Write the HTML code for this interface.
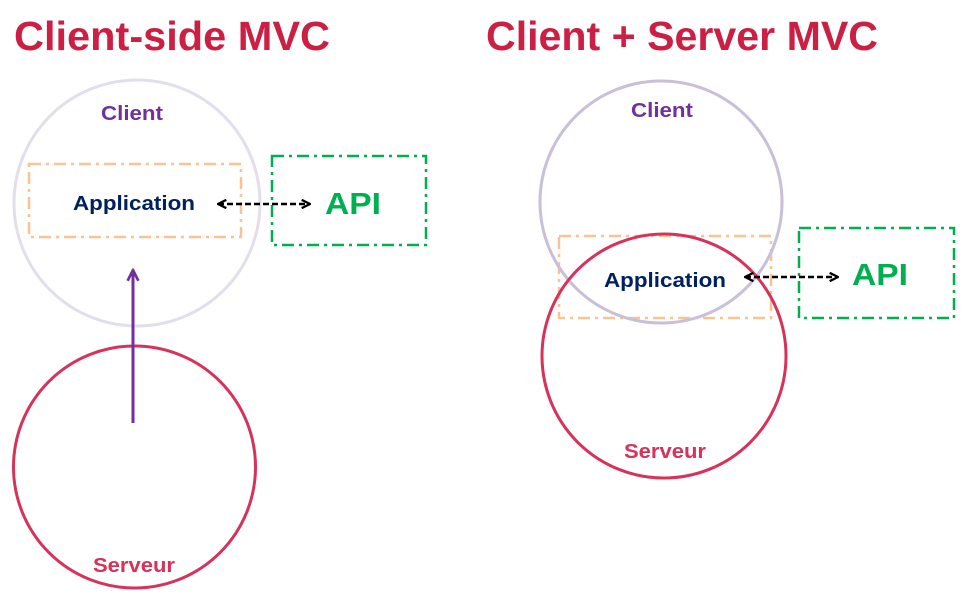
<!DOCTYPE html>
<html><head><meta charset="utf-8"><style>
html,body{margin:0;padding:0;background:#fff;width:966px;height:598px;overflow:hidden}
text{font-family:"Liberation Sans",sans-serif;font-weight:bold}
</style></head><body>
<svg width="966" height="598" viewBox="0 0 966 598" xmlns="http://www.w3.org/2000/svg">
<defs>
<marker id="ah" viewBox="0 0 10 10" refX="9" refY="5" markerWidth="4" markerHeight="4" orient="auto-start-reverse"><path d="M1,1 L9,5 L1,9" fill="none" stroke="#000" stroke-width="2.2"/></marker>
<marker id="pa" viewBox="0 0 10 10" refX="9" refY="5" markerWidth="4.5" markerHeight="4.5" orient="auto"><path d="M1,1 L9,5 L1,9" fill="none" stroke="#7030a0" stroke-width="2"/></marker>
</defs>
<text x="14" y="50" font-size="41" fill="#cc1f44" textLength="316" lengthAdjust="spacingAndGlyphs">Client-side MVC</text>
<text x="486" y="50" font-size="41" fill="#cc1f44" textLength="392" lengthAdjust="spacingAndGlyphs">Client + Server MVC</text>

<!-- Left -->
<circle cx="137" cy="203" r="123" fill="none" stroke="#e2deec" stroke-width="3"/>
<circle cx="134.5" cy="467" r="121" fill="none" stroke="#d6325a" stroke-width="3"/>
<rect x="29" y="164" width="212" height="73" fill="none" stroke="#f8c496" stroke-width="2.5" stroke-dasharray="12,5,3,5"/>
<rect x="272" y="156" width="154" height="89" fill="none" stroke="#00b050" stroke-width="2.5" stroke-dasharray="12,5,3,5"/>
<text x="101" y="120" font-size="20" fill="#7030a0" textLength="62" lengthAdjust="spacingAndGlyphs">Client</text>
<text x="73" y="210" font-size="20" fill="#002060" textLength="122" lengthAdjust="spacingAndGlyphs">Application</text>
<text x="325" y="214" font-size="31" fill="#00b050" textLength="56" lengthAdjust="spacingAndGlyphs">API</text>
<line x1="218" y1="204" x2="310" y2="204" stroke="#000" stroke-width="2.6" stroke-dasharray="6,3" marker-start="url(#ah)" marker-end="url(#ah)"/>
<line x1="133" y1="423" x2="133" y2="270" stroke="#7030a0" stroke-width="3" marker-end="url(#pa)"/>
<text x="93" y="572" font-size="20" fill="#d6325a" textLength="82" lengthAdjust="spacingAndGlyphs">Serveur</text>

<!-- Right -->
<rect x="559" y="236" width="212" height="82" fill="none" stroke="#f8c496" stroke-width="2.5" stroke-dasharray="12,5,3,5"/>
<circle cx="661" cy="202" r="121" fill="none" stroke="#c9bfd8" stroke-width="3"/>
<circle cx="664" cy="356" r="122" fill="none" stroke="#d6325a" stroke-width="3"/>
<rect x="799" y="228" width="155" height="90" fill="none" stroke="#00b050" stroke-width="2.5" stroke-dasharray="12,5,3,5"/>
<text x="631" y="117" font-size="20" fill="#7030a0" textLength="62" lengthAdjust="spacingAndGlyphs">Client</text>
<text x="604" y="287" font-size="20" fill="#002060" textLength="122" lengthAdjust="spacingAndGlyphs">Application</text>
<text x="852" y="285" font-size="31" fill="#00b050" textLength="56" lengthAdjust="spacingAndGlyphs">API</text>
<line x1="745" y1="277" x2="838" y2="277" stroke="#000" stroke-width="2.6" stroke-dasharray="6,3" marker-start="url(#ah)" marker-end="url(#ah)"/>
<text x="624" y="458" font-size="20" fill="#d6325a" textLength="82" lengthAdjust="spacingAndGlyphs">Serveur</text>
</svg>
</body></html>
